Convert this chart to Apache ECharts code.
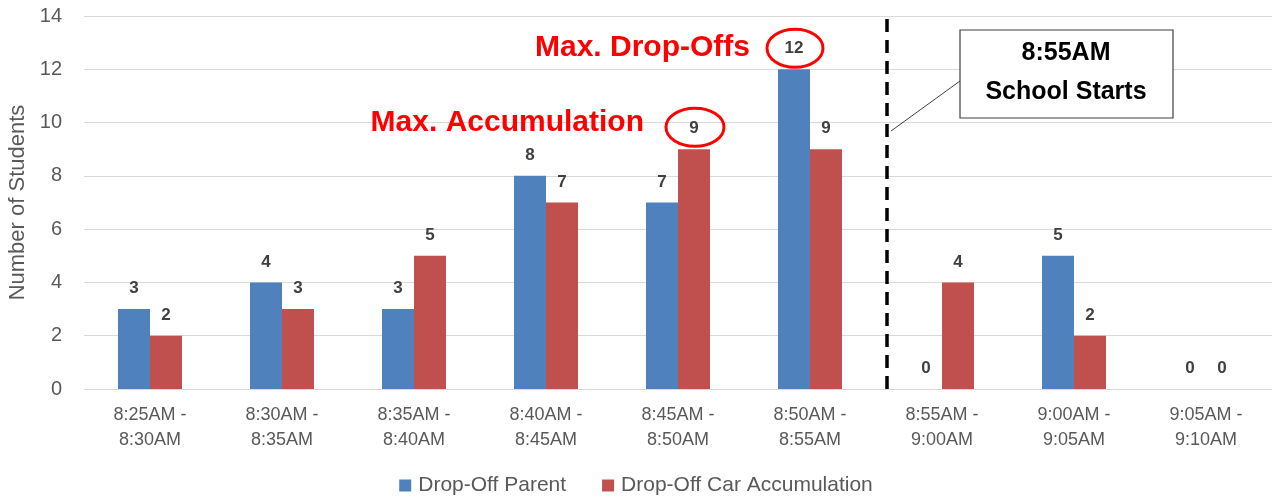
<!DOCTYPE html>
<html>
<head>
<meta charset="utf-8">
<script src="https://cdn.jsdelivr.net/npm/echarts@6/dist/echarts.min.js"></script>
<style>
  html, body { margin: 0; padding: 0; background: #fff; }
  #main { width: 1272px; height: 497px; }
</style>
</head>
<body>
<div id="main"></div>
<script>
// time slots (x axis)
var categories = [
  "8:25AM -\n8:30AM", "8:30AM -\n8:35AM", "8:35AM -\n8:40AM",
  "8:40AM -\n8:45AM", "8:45AM -\n8:50AM", "8:50AM -\n8:55AM",
  "8:55AM -\n9:00AM", "9:00AM -\n9:05AM", "9:05AM -\n9:10AM"
];
var parentData = [3, 4, 3, 8, 7, 12, 0, 5, 0];       // Drop-Off Parent
var accumData  = [2, 3, 5, 7, 9, 9, 4, 2, 0];        // Drop-Off Car Accumulation
var yTicks = [0, 2, 4, 6, 8, 10, 12, 14];

var FONT = "'Liberation Sans', 'Open Sans', sans-serif";
var chart = echarts.init(document.getElementById("main"));

var labelStyle = {
  show: true,
  position: "top",
  distance: 12,
  color: "#404040",
  fontWeight: "bold",
  fontSize: 17,
  fontFamily: FONT
};

chart.setOption({
  animation: false,
  textStyle: { fontFamily: FONT },
  grid: { left: 84, right: 0, top: 16, bottom: 108, outerBoundsMode: "none", containLabel: false },
  legend: {
    top: 470,
    left: "center",
    itemWidth: 12,
    itemHeight: 12,
    itemGap: 36,
    icon: "rect",
    textStyle: { color: "#595959", fontSize: 21, fontFamily: FONT, padding: [0, 0, 0, 2] },
    data: ["Drop-Off Parent", "Drop-Off Car Accumulation"]
  },
  xAxis: {
    type: "category",
    data: categories,
    axisLine: { lineStyle: { color: "#d9d9d9", width: 1 } },
    axisTick: { show: false },
    axisLabel: { color: "#595959", fontSize: 18, lineHeight: 25, margin: 14, fontFamily: FONT }
  },
  yAxis: {
    type: "value",
    min: yTicks[0],
    max: yTicks[yTicks.length - 1],
    interval: 2,
    name: "Number of Students",
    nameLocation: "middle",
    nameGap: 50,
    nameTextStyle: { color: "#595959", fontSize: 22, fontFamily: FONT },
    axisLabel: { color: "#595959", fontSize: 20, margin: 22, fontFamily: FONT },
    splitLine: { lineStyle: { color: "#d9d9d9" } },
    axisLine: { show: false },
    axisTick: { show: false }
  },
  series: [
    {
      name: "Drop-Off Parent",
      type: "bar",
      data: parentData,
      barWidth: 32,
      barGap: "0%",
      itemStyle: { color: "#4f81bd" },
      label: labelStyle
    },
    {
      name: "Drop-Off Car Accumulation",
      type: "bar",
      data: accumData,
      barWidth: 32,
      barGap: "0%",
      itemStyle: { color: "#c0504d" },
      label: labelStyle
    }
  ]
});

// annotations placed from the axes
function px(cat, val) { return chart.convertToPixel({ gridIndex: 0 }, [cat, val]); }
var catW = px(1, 0)[0] - px(0, 0)[0];
var topY = px(0, 14)[1], baseY = px(0, 0)[1];
var lineX = px(5, 0)[0] + catW / 2 + 11;

// circles sit around the max labels
var maxParentIdx = parentData.indexOf(Math.max.apply(null, parentData));
var maxAccumIdx = accumData.indexOf(Math.max.apply(null, accumData));
var p12 = px(maxParentIdx, parentData[maxParentIdx]);
var p9 = px(maxAccumIdx, accumData[maxAccumIdx]);
var c1 = [p12[0] - 15, p12[1] - 21];
var c2 = [p9[0] + 17, p9[1] - 22];

chart.setOption({
  graphic: [
    {
      type: "line",
      shape: { x1: lineX, y1: topY + 3, x2: lineX, y2: baseY + 3 },
      style: { stroke: "#000", lineWidth: 3.5, lineDash: [13, 8] }
    },
    {
      type: "line",
      shape: { x1: lineX + 4, y1: 131, x2: 960, y2: 81 },
      style: { stroke: "#404040", lineWidth: 1 }
    },
    {
      type: "rect",
      shape: { x: 960, y: 30, width: 213, height: 88 },
      style: { fill: "#fff", stroke: "#404040", lineWidth: 1.2 }
    },
    {
      type: "text",
      x: 1066, y: 73,
      style: {
        text: "8:55AM\nSchool Starts",
        fill: "#000",
        fontSize: 25,
        fontWeight: "bold",
        lineHeight: 39,
        fontFamily: FONT,
        align: "center",
        verticalAlign: "middle"
      }
    },
    {
      type: "ellipse",
      shape: { cx: c1[0], cy: c1[1], rx: 28, ry: 19 },
      style: { fill: "none", stroke: "#ff0000", lineWidth: 3 }
    },
    {
      type: "ellipse",
      shape: { cx: c2[0], cy: c2[1], rx: 29, ry: 19 },
      style: { fill: "none", stroke: "#ff0000", lineWidth: 3 }
    },
    {
      type: "text",
      x: c1[0] - 45, y: c1[1] - 1,
      style: {
        text: "Max. Drop-Offs", fill: "#ff0000", fontSize: 30, fontWeight: "bold",
        fontFamily: FONT, align: "right", verticalAlign: "middle"
      }
    },
    {
      type: "text",
      x: c2[0] - 51, y: c2[1] - 4,
      style: {
        text: "Max. Accumulation", fill: "#ff0000", fontSize: 30, fontWeight: "bold",
        fontFamily: FONT, align: "right", verticalAlign: "middle"
      }
    }
  ]
});
</script>
</body>
</html>
